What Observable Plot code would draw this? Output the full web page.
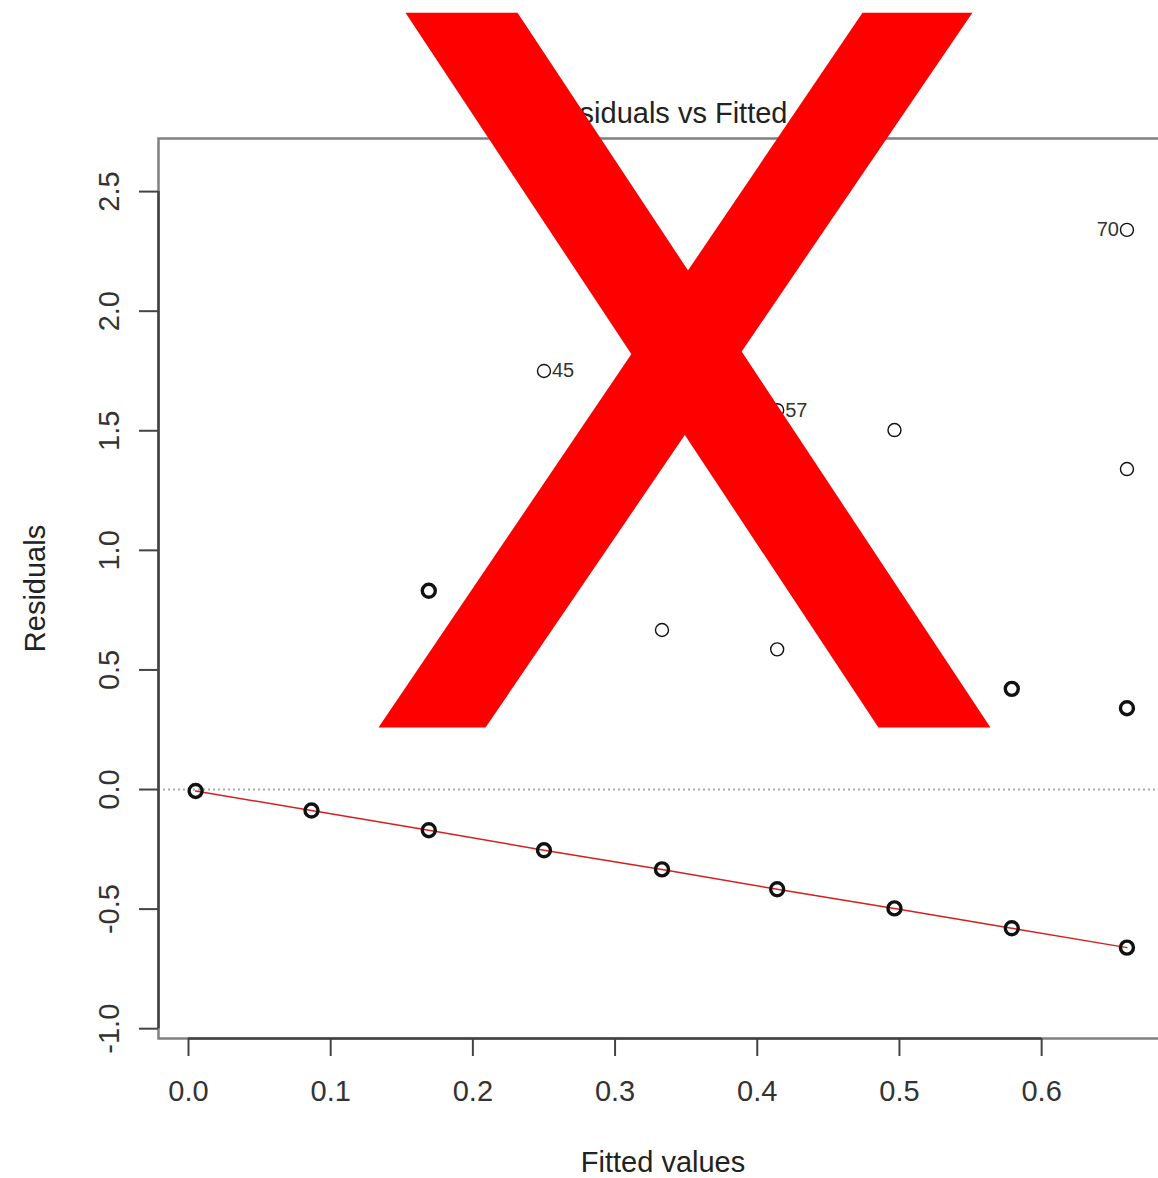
<!DOCTYPE html>
<html>
<head>
<meta charset="utf-8">
<script src="https://cdn.jsdelivr.net/npm/d3@7"></script>
<script src="https://cdn.jsdelivr.net/npm/@observablehq/plot@0.6"></script>
<style>
  html, body { margin: 0; padding: 0; background: #fff; overflow: hidden; }
  #chart { width: 1158px; overflow: hidden; }
  #chart svg { display: block; max-width: none; }
</style>
</head>
<body>
<div id="chart"></div>
<script>
// ---- data ----
const fitted    = [0.005, 0.0865, 0.169, 0.250, 0.333, 0.414, 0.4965, 0.579, 0.660,
                   0.169, 0.250, 0.333, 0.414, 0.414, 0.4965, 0.579, 0.660, 0.660, 0.660];
const residuals = [-0.006, -0.088, -0.170, -0.254, -0.334, -0.417, -0.497, -0.580, -0.661,
                   0.831, 1.750, 0.667, 0.586, 1.586, 1.503, 0.421, 0.340, 1.340, 2.340];
// number of observations overplotted at each position
const overlap   = [2, 2, 2, 2, 2, 2, 2, 2, 2,
                   2, 1, 1, 1, 1, 1, 2, 2, 1, 1];
// labelled extreme observations
const idLabels  = ["45", "57", "70"];
const idFitted  = [0.250, 0.414, 0.660];
const idResid   = [1.750, 1.586, 2.340];
// smoother (lowess) through the residuals
const smoothX   = [0.005, 0.0865, 0.169, 0.250, 0.333, 0.414, 0.4965, 0.579, 0.660];
const smoothY   = [-0.006, -0.088, -0.170, -0.254, -0.334, -0.417, -0.497, -0.580, -0.661];
const zeroRef   = [0];
// axis ticks
const xTicks    = [0.0, 0.1, 0.2, 0.3, 0.4, 0.5, 0.6];
const yTicks    = [-1.0, -0.5, 0.0, 0.5, 1.0, 1.5, 2.0, 2.5];
const xDomain   = [-0.0211, 0.6857];
const yDomain   = [-1.041, 2.722];
// texts
const titleText = "Residuals vs Fitted";
const xLabel    = "Fitted values";
const yLabel    = "Residuals";
// the red cross drawn over the chart (two bands, vertices in data units)
const crossBand = ["a", "a", "a", "a", "b", "b", "b", "b"];
const crossX    = [0.1526, 0.2314, 0.5640, 0.4852, 0.4740, 0.5513, 0.2089, 0.1336];
const crossY    = [3.248, 3.248, 0.259, 0.259, 3.248, 3.248, 0.259, 0.259];

// ---- tables ----
const points = fitted.map((f, i) => ({f, r: residuals[i], n: overlap[i]}));
const ids = idLabels.map((t, i) => ({t, f: idFitted[i], r: idResid[i]}));
const smooth = smoothX.map((x, i) => ({x, y: smoothY[i]}));
const cross = crossX.map((x, i) => ({x, y: crossY[i], band: crossBand[i]}));
const maxFitted = d3.max(fitted);
const fmt = d => d.toFixed(1); // R style, ASCII hyphen-minus

const font = "'Liberation Sans', Arial, Helvetica, sans-serif";

const chart = Plot.plot({
  width: 1163,
  height: 1178,
  marginLeft: 158,
  marginRight: 0,
  marginTop: 138,
  marginBottom: 140,
  style: {fontFamily: font, background: "#fff", color: "#333"},
  x: {domain: xDomain, axis: null},
  y: {domain: yDomain, axis: null},
  marks: [
    Plot.ruleY(zeroRef, {stroke: "#aaa", strokeWidth: 2, strokeDasharray: "2,3"}),
    Plot.line(smooth, {x: "x", y: "y", stroke: "#d42020", strokeWidth: 1.5}),
    Plot.dot(points, {x: "f", y: "r", r: 6.5, stroke: "#111", fill: "none",
      strokeWidth: d => d.n > 1 ? 3.4 : 1.4}),
    Plot.text(ids.filter(d => d.f < maxFitted), {x: "f", y: "r", text: "t", textAnchor: "start", dx: 8,
      fontSize: 20, fill: "#333"}),
    Plot.text(ids.filter(d => d.f >= maxFitted), {x: "f", y: "r", text: "t", textAnchor: "end", dx: -8,
      fontSize: 20, fill: "#333"}),
    Plot.frame({stroke: "#808080", strokeWidth: 2.5}),
    // axis lines spanning first to last tick (R style)
    Plot.ruleX([xDomain[0]], {y1: d3.min(yTicks), y2: d3.max(yTicks), stroke: "#444", strokeWidth: 2.5}),
    Plot.ruleY([yDomain[0]], {x1: d3.min(xTicks), x2: d3.max(xTicks), stroke: "#444", strokeWidth: 2.5}),
    Plot.axisX(xTicks, {anchor: "bottom", tickSize: 18, tickPadding: 24, fontSize: 29,
      tickFormat: fmt, stroke: "#444", strokeWidth: 2, fill: "#333"}),
    Plot.axisY(yTicks, {anchor: "left", tickSize: 19, tickPadding: 21, tickRotate: -90, fontSize: 29,
      tickFormat: fmt, stroke: "#444", strokeWidth: 2, fill: "#333"}),
    Plot.text([titleText], {frameAnchor: "top", dx: 4, dy: -25, lineAnchor: "middle", fontSize: 29, fill: "#222"}),
    Plot.text([xLabel], {frameAnchor: "bottom", dx: 2, dy: 124, lineAnchor: "middle", fontSize: 29, fill: "#222"}),
    Plot.text([yLabel], {frameAnchor: "left", dx: -123, rotate: -90, textAnchor: "middle", lineAnchor: "middle",
      fontSize: 29, fill: "#222"}),
    Plot.line(cross, {x: "x", y: "y", z: "band", fill: "#fe0000", stroke: "none", clip: false})
  ]
});
document.getElementById("chart").appendChild(chart);
</script>
</body>
</html>
